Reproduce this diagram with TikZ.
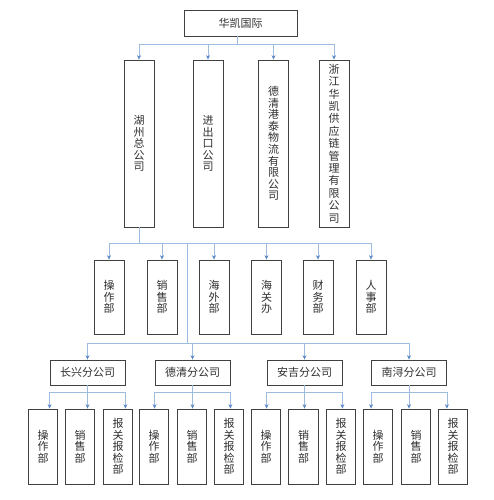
\documentclass[tikz,border=0pt]{standalone}
\usepackage{fontspec}
\setmainfont{Noto Sans CJK SC}
\usetikzlibrary{arrows.meta,calc}
\definecolor{lnc}{HTML}{9DBCE0}
\definecolor{arc}{HTML}{5B8AC6}
\definecolor{bxc}{HTML}{404040}
\definecolor{txc}{HTML}{303030}
\tikzset{
  box/.style={draw=bxc,line width=0.8pt,fill=white,inner sep=0pt,text=txc,font=\fontsize{11}{11.6}\selectfont,align=center,anchor=center},
  hbox/.style={box,minimum height=25pt},
  tall/.style={box,minimum width=30pt,minimum height=167pt},
  dept/.style={box,minimum width=30pt,minimum height=74pt},
  sub/.style={box,minimum width=29.5pt,minimum height=75pt},
  br/.style={hbox,minimum width=75pt},
  ln/.style={draw=lnc,line width=0.6pt},
  ar/.style={ln,-{Stealth[length=4.5pt,width=4pt,color=arc]}},
}
\begin{document}
\begin{tikzpicture}[x=1pt,y=-1pt]
\useasboundingbox (0,0) rectangle (494,500);
% top
\node[hbox,minimum width=113pt,minimum height=26pt] (top) at (240.5,23) {华凯国际};
% level 2
\node[tall] (hz) at (139,143.5) {湖\\州\\总\\公\\司};
\node[tall] (jc) at (208,143.5) {进\\出\\口\\公\\司};
\node[tall] (dq) at (273.5,143.5) {德\\清\\港\\泰\\物\\流\\有\\限\\公\\司};
\node[tall,font=\fontsize{11}{12.4}\selectfont] (zj) at (334,143.5) {浙\\江\\华\\凯\\供\\应\\链\\管\\理\\有\\限\\公\\司};
% level 3
\node[dept] (d1) at (109,297) {操\\作\\部};
\node[dept] (d2) at (162,297) {销\\售\\部};
\node[dept] (d3) at (214,297) {海\\外\\部};
\node[dept] (d4) at (266.5,297) {海\\关\\办};
\node[dept] (d5) at (318,297) {财\\务\\部};
\node[dept] (d6) at (371,297) {人\\事\\部};
% level 4
\node[br] (b1) at (87.5,372.5) {长兴分公司};
\node[br] (b2) at (192.5,372.5) {德清分公司};
\node[br] (b3) at (304.5,372.5) {安吉分公司};
\node[br] (b4) at (409,372.5) {南浔分公司};
% level 5
\node[sub] (s11) at (43,446.5) {操\\作\\部};
\node[sub] (s12) at (80,446.5) {销\\售\\部};
\node[sub] (s13) at (118,446.5) {报\\关\\报\\检\\部};
\node[sub] (s21) at (154,446.5) {操\\作\\部};
\node[sub] (s22) at (192,446.5) {销\\售\\部};
\node[sub] (s23) at (229,446.5) {报\\关\\报\\检\\部};
\node[sub] (s31) at (266,446.5) {操\\作\\部};
\node[sub] (s32) at (303.5,446.5) {销\\售\\部};
\node[sub] (s33) at (341,446.5) {报\\关\\报\\检\\部};
\node[sub] (s41) at (378,446.5) {操\\作\\部};
\node[sub] (s42) at (416,446.5) {销\\售\\部};
\node[sub] (s43) at (453,446.5) {报\\关\\报\\检\\部};
% buses
\coordinate (y1) at (0,44);
\coordinate (y2) at (0,243);
\coordinate (y3) at (0,343);
\coordinate (y4) at (0,392);
\coordinate (t0) at ([xshift=-3.5pt]top.south);
\draw[ln] (t0) -- (t0 |- y1);
\draw[ln] (hz.north |- y1) -- (zj.north |- y1);
\foreach \n in {hz,jc,dq,zj} \draw[ar] (\n.north |- y1) -- (\n.north);
\draw[ln] (hz.south) -- (hz.south |- y2);
\draw[ln] (d1.north |- y2) -- (d6.north |- y2);
\foreach \n in {d1,d2,d3,d4,d5,d6} \draw[ar] (\n.north |- y2) -- (\n.north);
\coordinate (v3) at (187,243);
\draw[ln] (v3) -- (v3 |- y3);
\draw[ln] (b1.north |- y3) -- (b4.north |- y3);
\foreach \n in {b1,b2,b3,b4} \draw[ar] (\n.north |- y3) -- (\n.north);
\foreach \g in {1,2,3,4}{
  \draw[ln] (b\g.south) -- (b\g.south |- y4);
  \draw[ln] (b\g.south west |- y4) -- (b\g.south east |- y4);
  \draw[ar] (b\g.south west |- y4) -- (b\g.south west |- s\g1.north);
  \draw[ar] (b\g.south |- y4) -- (b\g.south |- s\g2.north);
  \draw[ar] (b\g.south east |- y4) -- (b\g.south east |- s\g3.north);
}
\end{tikzpicture}
\end{document}
